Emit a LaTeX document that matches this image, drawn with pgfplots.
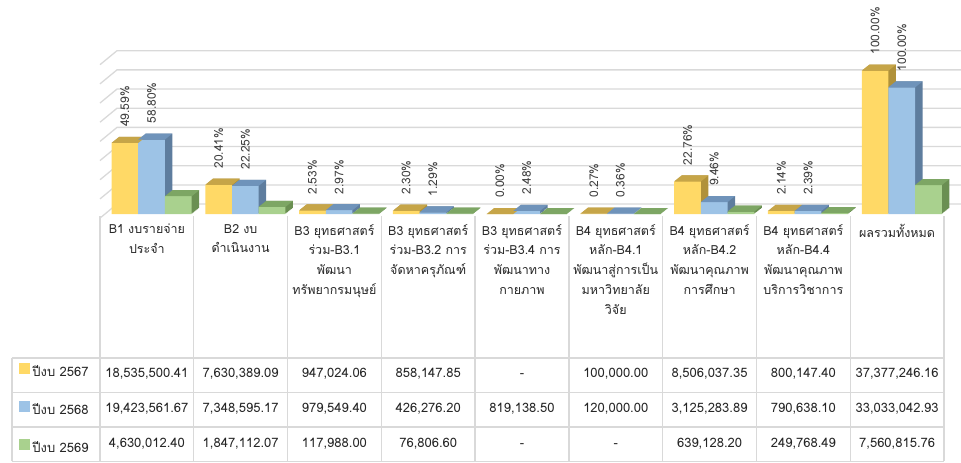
\documentclass[border=0pt]{standalone}
\usepackage{fontspec}
\setmainfont{Loma}[Script=Thai]
\usepackage{pgfplots}
\pgfplotsset{compat=1.18}
\usepackage{pgfplotstable}

\definecolor{yF}{HTML}{FFD966}
\definecolor{yT}{HTML}{C6A548}
\definecolor{yS}{HTML}{B0913A}
\definecolor{bF}{HTML}{9DC3E6}
\definecolor{bT}{HTML}{6F93BA}
\definecolor{bS}{HTML}{5E7D9E}
\definecolor{gF}{HTML}{A9D18E}
\definecolor{gT}{HTML}{7DA664}
\definecolor{gS}{HTML}{6A8F52}
\definecolor{gridc}{HTML}{D9D9D9}
\definecolor{lblc}{HTML}{404040}
\definecolor{txtc}{HTML}{262626}

\pgfplotstableread{
x y7 p7 y8 p8 y9
0 18535500.41 49.59 19423561.67 58.80 4630012.40
1 7630389.09 20.41 7348595.17 22.25 1847112.07
2 947024.06 2.53 979549.40 2.97 117988.00
3 858147.85 2.30 426276.20 1.29 76806.60
4 0 0.00 819138.50 2.48 0
5 100000.00 0.27 120000.00 0.36 0
6 8506037.35 22.76 3125283.89 9.46 639128.20
7 800147.40 2.14 790638.10 2.39 249768.49
8 37377246.16 100.00 33033042.93 100.00 7560815.76
}\data

% top faces of the bars (bar width 26.7pt, depth 7.5pt x 6pt)
\pgfdeclareplotmark{topY}{\pgfpathmoveto{\pgfqpoint{-35.35pt}{0pt}}\pgfpathlineto{\pgfqpoint{-8.65pt}{0pt}}\pgfpathlineto{\pgfqpoint{-1.15pt}{6pt}}\pgfpathlineto{\pgfqpoint{-27.85pt}{6pt}}\pgfpathclose\pgfusepathqfill}
\pgfdeclareplotmark{topB}{\pgfpathmoveto{\pgfqpoint{-8.65pt}{0pt}}\pgfpathlineto{\pgfqpoint{18.05pt}{0pt}}\pgfpathlineto{\pgfqpoint{25.55pt}{6pt}}\pgfpathlineto{\pgfqpoint{-1.15pt}{6pt}}\pgfpathclose\pgfusepathqfill}
\pgfdeclareplotmark{topG}{\pgfpathmoveto{\pgfqpoint{18.05pt}{0pt}}\pgfpathlineto{\pgfqpoint{44.75pt}{0pt}}\pgfpathlineto{\pgfqpoint{52.25pt}{6pt}}\pgfpathlineto{\pgfqpoint{25.55pt}{6pt}}\pgfpathclose\pgfusepathqfill}

\newcommand\sidecopies[3]{%
  \pgfplotsinvokeforeach{1,2,3,4,5,6,7,8}{%
    \addplot[ybar, bar width=26.7pt, bar shift={#3pt+##1*0.9375pt}, yshift=##1*0.75pt,
      fill=#2, draw=none, forget plot] table[x=x,y=#1]{\data};
  }%
}
\newcommand\pctlabels[3]{%
  \addplot[draw=none, mark=none, forget plot, point meta=explicit,
    nodes near coords={\pgfmathprintnumber[fixed,fixed zerofill,precision=2]{\pgfplotspointmeta}\%},
    every node near coord/.style={font=\fontsize{12}{14}\selectfont, text=lblc, inner sep=0pt,
      xshift=#3pt, yshift=16pt, rotate=90, anchor=west}]
    table[x=x,y=#1,meta=#2]{\data};
}

\begin{document}
\begin{tikzpicture}
\useasboundingbox (0,0) rectangle (961pt,463pt);
% back wall grid lines and left wall
\foreach \k in {0,...,8}{
  \draw[gridc, line width=1.3pt] (100pt,{(244.9+19.175*\k)*1pt}) -- (117pt,{(258.9+19.175*\k)*1pt}) -- (961pt,{(258.9+19.175*\k)*1pt});
}
\begin{axis}[
  at={(100pt,249pt)}, anchor=south west,
  scale only axis, width=844pt, height=153.4pt,
  xmin=-0.5, xmax=8.5, ymin=0, ymax=40e6,
  clip=false,
  axis line style={draw=none},
  major tick length=0pt,
  ytick=\empty,
  xtick={0,...,8},
  /pgf/number format/assume math mode=true,
  xticklabels={
    {B1 งบรายจ่าย\\ประจำ},
    {B2 งบ\\ดำเนินงาน},
    {B3 ยุทธศาสตร์\\ร่วม-B3.1\\พัฒนา\\ทรัพยากรมนุษย์},
    {B3 ยุทธศาสตร์\\ร่วม-B3.2 การ\\จัดหาครุภัณฑ์},
    {B3 ยุทธศาสตร์\\ร่วม-B3.4 การ\\พัฒนาทาง\\กายภาพ},
    {B4 ยุทธศาสตร์\\หลัก-B4.1\\พัฒนาสู่การเป็น\\มหาวิทยาลัย\\วิจัย},
    {B4 ยุทธศาสตร์\\หลัก-B4.2\\พัฒนาคุณภาพ\\การศึกษา},
    {B4 ยุทธศาสตร์\\หลัก-B4.4\\พัฒนาคุณภาพ\\บริการวิชาการ},
    {ผลรวมทั้งหมด}},
  xticklabel style={anchor=north, inner sep=0pt, yshift=-10pt, text width=92pt, align=center,
    font=\fontsize{12.5}{19.8}\selectfont, text=txtc},
  legend entries={ปีงบ 2567, ปีงบ 2568, ปีงบ 2569},
  legend cell align=left,
  legend style={at={(-0.0954,-1.2745)}, anchor=west, draw=none, fill=none,
    inner sep=0pt, outer sep=0pt, row sep=21.5pt, column sep=2pt,
    font=\fontsize{13}{15}\selectfont,
    nodes={inner sep=0pt, text height=10pt, text depth=3pt, text=txtc}},
]
% 2567
\sidecopies{y7}{yS}{-22}
\addplot[ybar, bar width=26.7pt, bar shift=-22pt, fill=yF, draw=none,
  legend image code/.code={\fill[yF] (0pt,-1pt) rectangle (11pt,10pt);}] table[x=x,y=y7]{\data};
\addplot[only marks, mark=topY, color=yT, forget plot] table[x=x,y=y7]{\data};
% 2568
\sidecopies{y8}{bS}{4.7}
\addplot[ybar, bar width=26.7pt, bar shift=4.7pt, fill=bF, draw=none,
  legend image code/.code={\fill[bF] (0pt,-1pt) rectangle (11pt,10pt);}] table[x=x,y=y8]{\data};
\addplot[only marks, mark=topB, color=bT, forget plot] table[x=x,y=y8]{\data};
% 2569
\sidecopies{y9}{gS}{31.4}
\addplot[ybar, bar width=26.7pt, bar shift=31.4pt, fill=gF, draw=none,
  legend image code/.code={\fill[gF] (0pt,-1pt) rectangle (11pt,10pt);}] table[x=x,y=y9]{\data};
\addplot[only marks, mark=topG, color=gT, forget plot] table[x=x,y=y9]{\data};
% percentage labels
\pctlabels{y7}{p7}{-22}
\pctlabels{y8}{p8}{4.7}
\end{axis}
% data table grid
\foreach \yy in {105,70.5,36,1.5}{
  \draw[gridc, line width=1.3pt] (12pt,\yy pt) -- (944pt,\yy pt);
}
\draw[gridc, line width=1.3pt] (12pt,1.5pt) -- (12pt,105pt);
\foreach \j in {0,...,9}{
  \draw[gridc, line width=1.3pt] ({(100+93.78*\j)*1pt},1.5pt) -- ({(100+93.78*\j)*1pt},246.5pt);
}
% table values
\foreach \v [count=\i from 0] in {{18,535,500.41},{7,630,389.09},{947,024.06},{858,147.85},{-},{100,000.00},{8,506,037.35},{800,147.40},{37,377,246.16}}{
  \node[anchor=base, inner sep=0pt, font=\fontsize{13}{15}\selectfont, text=txtc] at ({(100+93.78*(\i+0.5))*1pt},85pt) {\v};
}
\foreach \v [count=\i from 0] in {{19,423,561.67},{7,348,595.17},{979,549.40},{426,276.20},{819,138.50},{120,000.00},{3,125,283.89},{790,638.10},{33,033,042.93}}{
  \node[anchor=base, inner sep=0pt, font=\fontsize{13}{15}\selectfont, text=txtc] at ({(100+93.78*(\i+0.5))*1pt},50.3pt) {\v};
}
\foreach \v [count=\i from 0] in {{4,630,012.40},{1,847,112.07},{117,988.00},{76,806.60},{-},{-},{639,128.20},{249,768.49},{7,560,815.76}}{
  \node[anchor=base, inner sep=0pt, font=\fontsize{13}{15}\selectfont, text=txtc] at ({(100+93.78*(\i+0.5))*1pt},15.3pt) {\v};
}
\end{tikzpicture}
\end{document}
